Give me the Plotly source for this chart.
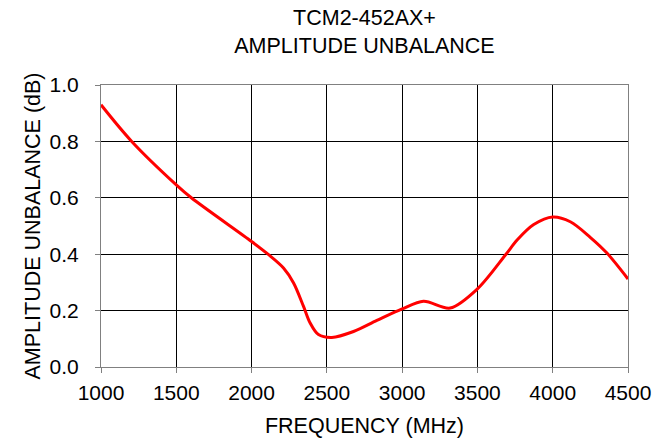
import plotly.graph_objects as go

freq_mhz = [1000, 1204, 1500, 1600, 2000, 2109, 2212, 2279, 2345, 2389, 2444, 2533, 2677, 2832, 3000,
            3142, 3319, 3500, 3687, 3765, 3874, 4000, 4117, 4249, 4360, 4500]
unbalance_db = [0.93, 0.80, 0.646, 0.60, 0.445, 0.40, 0.351, 0.298, 0.215, 0.156, 0.115, 0.105, 0.126, 0.165, 0.206,
                0.233, 0.209, 0.277, 0.398, 0.451, 0.505, 0.532, 0.515, 0.46, 0.404, 0.312]

x_ticks = [1000, 1500, 2000, 2500, 3000, 3500, 4000, 4500]
y_ticks = [0.0, 0.2, 0.4, 0.6, 0.8, 1.0]

fig = go.Figure()
fig.add_trace(go.Scatter(
    x=freq_mhz, y=unbalance_db, mode="lines",
    line=dict(color="#ff0000", width=3, shape="spline", smoothing=0.9),
    showlegend=False, hoverinfo="skip"))

font = "Liberation Sans, Arial, sans-serif"
W, H = 654, 440
fig.update_layout(
    width=W, height=H,
    margin=dict(l=101, r=26, t=85, b=73, autoexpand=False),
    paper_bgcolor="white", plot_bgcolor="white",
    font=dict(family=font, size=21, color="black"),
    title=dict(text="TCM2-452AX+<br>AMPLITUDE UNBALANCE", x=0.5, xref="paper", xanchor="center",
               y=1 - 25 / H, yref="container", yanchor="top",
               font=dict(family=font, size=21.5, color="black")),
)
fig.update_xaxes(
    range=[1000, 4500], tickvals=x_ticks, ticktext=[str(v) for v in x_ticks],
    showgrid=True, gridcolor="black", gridwidth=1,
    showline=True, linecolor="#808080", linewidth=1, mirror=True,
    ticks="outside", ticklen=5, tickcolor="#808080",
    zeroline=False, tickfont=dict(size=21), automargin=False,
    ticklabelstandoff=2,
    title=dict(text="FREQUENCY (MHz)", font=dict(size=21.5), standoff=14))
fig.update_yaxes(
    range=[0, 1.0], tickvals=y_ticks, ticktext=[f"{v:.1f}" for v in y_ticks],
    showgrid=True, gridcolor="black", gridwidth=1,
    showline=True, linecolor="#808080", linewidth=1, mirror=True,
    ticks="outside", ticklen=5, tickcolor="#808080",
    zeroline=False, tickfont=dict(size=21), automargin=False,
    ticklabelstandoff=12,
    title=dict(text="AMPLITUDE UNBALANCE (dB)", font=dict(size=21.5), standoff=3))

fig.write_html("out.html", config={"displayModeBar": False},
               post_script="document.body.style.margin='0';")
